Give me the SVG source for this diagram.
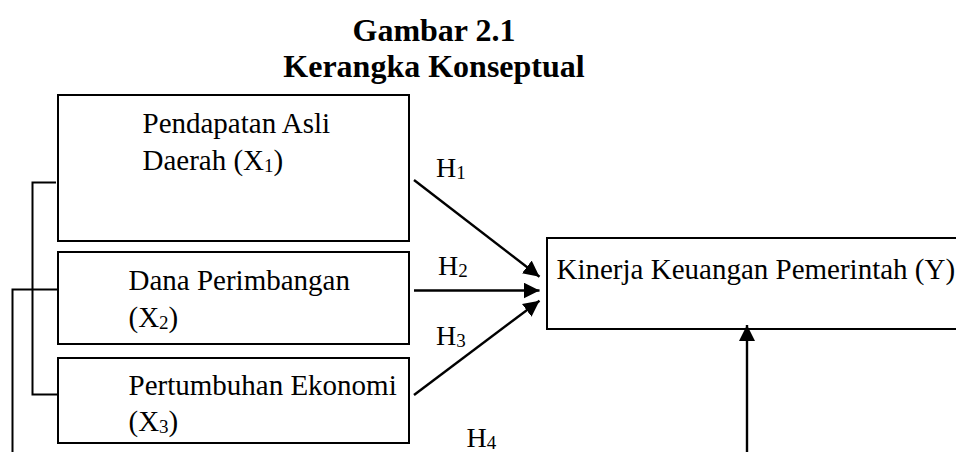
<svg xmlns="http://www.w3.org/2000/svg" width="956" height="452" viewBox="0 0 956 452">
<style>
text{font-family:"Liberation Serif","Times New Roman",serif;fill:#000}
.t{font-size:32px;font-weight:bold;text-anchor:middle}
.b{font-size:29px}
.h{font-size:28px}
.s{font-size:19px}
.box{fill:#fff;stroke:#000;stroke-width:2}
.ln{fill:none;stroke:#000;stroke-width:2}
.ar{fill:none;stroke:#000;stroke-width:2.4}
</style>
<defs>
<marker id="ah" markerUnits="userSpaceOnUse" markerWidth="18" markerHeight="18" refX="16" refY="8" orient="auto">
<path d="M0,0 L16,8 L0,16 Z" fill="#000"/>
</marker>
</defs>
<g id="title">
<text class="t" x="434" y="41">Gambar 2.1</text>
<text class="t" x="434" y="77">Kerangka Konseptual</text>
</g>
<g id="x1">
<rect class="box" x="58" y="95" width="351" height="146"/>
<text class="b" x="142.5" y="132.5">Pendapatan Asli</text>
<text class="b" x="142.5" y="170">Daerah (X<tspan class="s" dy="2">1</tspan><tspan dy="-2">)</tspan></text>
</g>
<g id="x2">
<rect class="box" x="58" y="252" width="351" height="92"/>
<text class="b" x="128.5" y="289.5">Dana Perimbangan</text>
<text class="b" x="128.5" y="327">(X<tspan class="s" dy="2">2</tspan><tspan dy="-2">)</tspan></text>
</g>
<g id="x3">
<rect class="box" x="58" y="358" width="351" height="85"/>
<text class="b" x="128.5" y="394.5">Pertumbuhan Ekonomi</text>
<text class="b" x="128.5" y="431">(X<tspan class="s" dy="2">3</tspan><tspan dy="-2">)</tspan></text>
</g>
<g id="y">
<rect class="box" x="547" y="238" width="430" height="91"/>
<text class="b" x="556.5" y="278.5">Kinerja Keuangan Pemerintah (Y)</text>
</g>
<g id="connectors">
<polyline class="ln" points="56,182.5 32.5,182.5 32.5,394.5 58,394.5"/>
<polyline class="ln" points="58,289.5 12.5,289.5 12.5,452"/>
<line class="ar" x1="414" y1="180" x2="539.5" y2="276.7" marker-end="url(#ah)"/>
<line class="ar" x1="414" y1="290.5" x2="539.5" y2="290.5" marker-end="url(#ah)"/>
<line class="ar" x1="414" y1="395" x2="539.5" y2="300.7" marker-end="url(#ah)"/>
<line class="ar" x1="747" y1="452" x2="747" y2="325" marker-end="url(#ah)"/>
</g>
<g id="labels">
<text class="h" x="436" y="177">H<tspan class="s" dy="2">1</tspan></text>
<text class="h" x="438" y="275">H<tspan class="s" dy="2">2</tspan></text>
<text class="h" x="436" y="345">H<tspan class="s" dy="2">3</tspan></text>
<text class="h" x="466.5" y="447">H<tspan class="s" dy="2">4</tspan></text>
</g>
</svg>
